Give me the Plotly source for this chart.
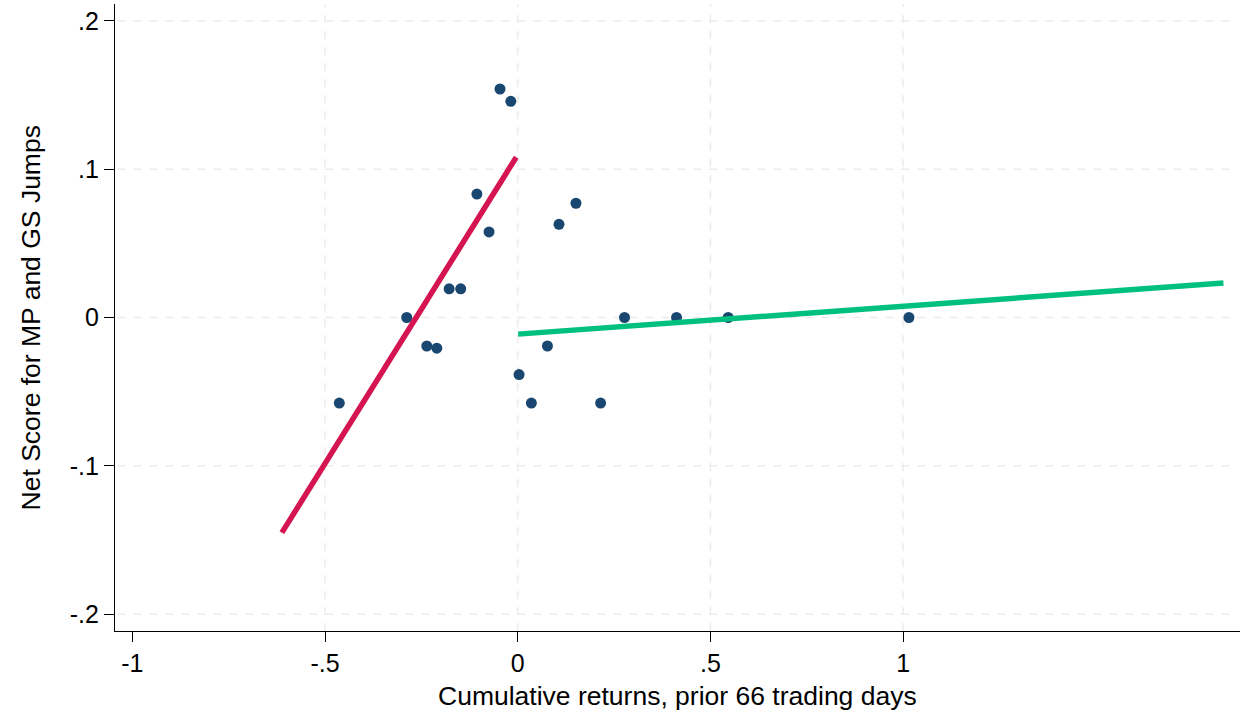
import plotly.graph_objects as go

# Scatter data: cumulative returns over prior 66 trading days vs net score
returns = [-0.463, -0.288, -0.236, -0.210, -0.178, -0.148, -0.106, -0.0745,
           -0.046, -0.018, 0.0034, 0.0354, 0.077, 0.107, 0.151, 0.215,
           0.277, 0.412, 0.546, 1.015]
net_score = [-0.0577, 0.0, -0.0192, -0.0207, 0.0193, 0.0193, 0.0832, 0.0577,
             0.154, 0.1457, -0.0385, -0.0577, -0.0192, 0.0628, 0.077, -0.0577,
             0.0, 0.0, 0.0, 0.0]

# Fitted lines for negative and positive prior returns
fit_neg_x = [-0.612, -0.004]
fit_neg_y = [-0.145, 0.108]
fit_pos_x = [0.001, 1.831]
fit_pos_y = [-0.0112, 0.0232]

x_ticks = [-1, -0.5, 0, 0.5, 1]
x_tick_labels = ["-1", "-.5", "0", ".5", "1"]
y_ticks = [-0.2, -0.1, 0, 0.1, 0.2]
y_tick_labels = ["-.2", "-.1", "0", ".1", ".2"]

x_title = "Cumulative returns, prior 66 trading days"
y_title = "Net Score for MP and GS Jumps"

FONT = "Liberation Sans, Arial, sans-serif"
GRID = "#ebebeb"

fig = go.Figure()

fig.add_trace(go.Scatter(
    x=returns, y=net_score, mode="markers",
    marker=dict(color="#1a476f", size=11, line=dict(width=0)),
    showlegend=False, hoverinfo="x+y"))

fig.add_trace(go.Scatter(
    x=fit_neg_x, y=fit_neg_y, mode="lines",
    line=dict(color="#d41551", width=5.5), showlegend=False))

fig.add_trace(go.Scatter(
    x=fit_pos_x, y=fit_pos_y, mode="lines",
    line=dict(color="#00c07f", width=5.5), showlegend=False))

# Dashed reference grid (no vertical line at the leftmost tick)
shapes = []
for xv in x_ticks[1:]:
    shapes.append(dict(type="line", xref="x", yref="paper", x0=xv, x1=xv,
                       y0=0, y1=1, layer="below",
                       line=dict(color=GRID, width=1.5, dash="8px,8px")))
for yv in y_ticks:
    shapes.append(dict(type="line", xref="paper", yref="y", x0=0.002, x1=0.995,
                       y0=yv, y1=yv, layer="below",
                       line=dict(color=GRID, width=1.5, dash="8px,8px")))

# Axis titles placed as annotations for precise positioning
annotations = [
    dict(text=x_title, xref="paper", yref="paper", x=0.5, y=-0.104,
         xanchor="center", yanchor="middle", showarrow=False,
         font=dict(size=26.5)),
    dict(text=y_title, xref="paper", yref="paper", x=-0.0747, y=0.5,
         xanchor="center", yanchor="middle", textangle=-90, showarrow=False,
         font=dict(size=26.5)),
]

fig.update_layout(
    width=1245, height=714,
    margin=dict(l=115, r=5, t=4, b=83),
    paper_bgcolor="white", plot_bgcolor="white",
    font=dict(family=FONT, size=26, color="black"),
    shapes=shapes, annotations=annotations,
    xaxis=dict(
        range=[-1.045, 1.874], tickvals=x_ticks, ticktext=x_tick_labels,
        showgrid=False, zeroline=False, showline=True, linecolor="black",
        linewidth=1.3, ticks="outside", ticklen=10, tickwidth=1.3,
        tickcolor="black", tickfont=dict(size=25)),
    yaxis=dict(
        range=[-0.2113, 0.2113], tickvals=y_ticks, ticktext=y_tick_labels,
        showgrid=False, zeroline=False, showline=True, linecolor="black",
        linewidth=1.3, ticks="outside", ticklen=10, tickwidth=1.3,
        tickcolor="black", tickfont=dict(size=25)),
)

fig.write_html("out.html")
